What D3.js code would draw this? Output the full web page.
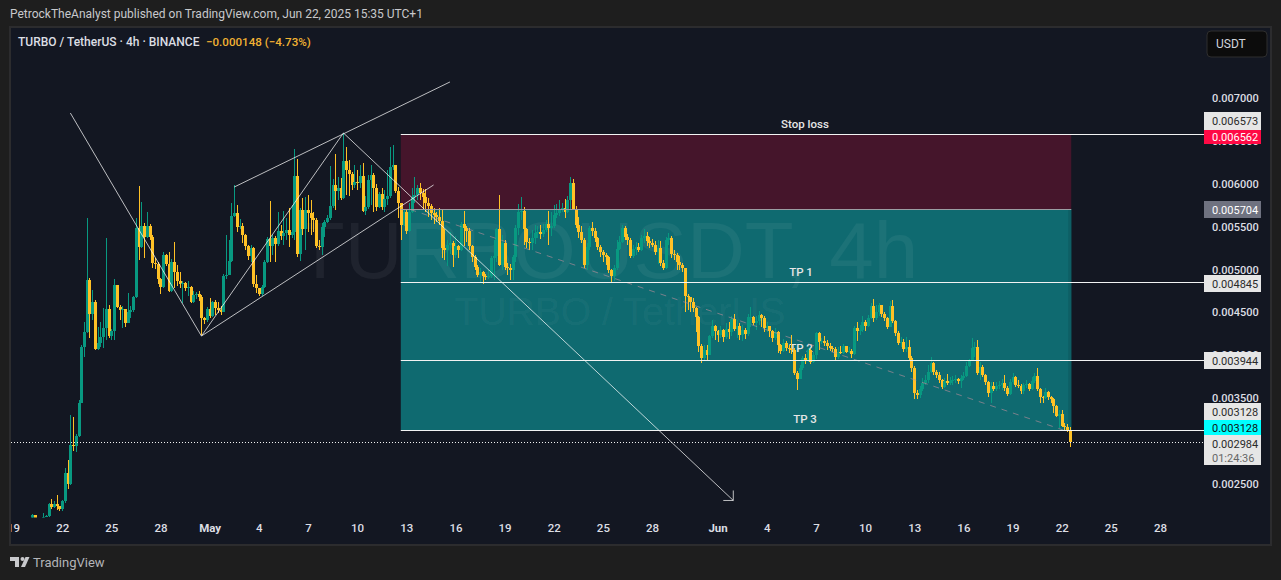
<!DOCTYPE html>
<html>
<head>
<meta charset="utf-8">
<script src="https://cdn.jsdelivr.net/npm/d3@7"></script>
<style>
	html, body { margin: 0; padding: 0; background: #1e1e1e; overflow: hidden; }
	text { font-family: Roboto, "Open Sans", sans-serif; }
</style>
</head>
<body>
<script>
// candles are 4h, first one is Apr 20 04:00. prices are in millionths
var firstCandle = '2025-04-20T04:00Z';
var firstOpen = 2103;

// open of each candle = close of the one before
var closes = [
	2138,2032,2032,2032,2114,
	2126,2266,2231,2266,2243,2208,
	2301,2627,2499,2954,2942,3059,
	3444,4097,4272,4878,4482,4622,
	4073,4143,4213,4318,4540,4225,
	4283,4820,4563,4528,4540,4376,
	4505,4528,4680,5484,5263,5507,
	5379,5507,5379,5076,5064,4890,
	4796,5170,5064,4750,5088,4971,
	4866,4831,4843,4785,4796,4622,
	4703,4715,4680,4435,4411,4540,
	4458,4622,4552,4528,4505,4925,
	4936,5099,5624,5659,5495,5507,
	5402,5274,5158,5251,4831,4785,
	4715,4796,5088,5356,5274,5368,
	5298,5449,5391,5426,5461,5402,
	5437,6090,5181,5694,5472,5694,
	5659,5601,5577,5274,5263,5495,
	5554,5601,5741,5986,5916,5951,
	5834,6265,6161,6114,5986,6021,
	6009,6090,5682,5729,6044,6102,
	5951,5729,5881,5729,5822,5857,
	6195,6218,5916,5776,5519,5671,
	5449,5671,5846,5869,5951,5892,
	5846,5776,5741,5659,5636,5612,
	5566,5251,5228,5286,5309,5170,
	5274,5228,5531,5484,5449,5274,
	5146,5029,4936,4971,4925,4913,
	4925,5135,5158,5472,5053,5309,
	5029,5018,4994,5146,5484,5671,
	5682,5472,5321,5309,5368,5426,
	5437,5414,5461,5531,5484,5507,
	5636,5659,5694,5717,5671,5811,
	6009,5706,5519,5437,5344,5053,
	5263,5484,5449,5368,5263,5204,
	5170,5146,4994,4925,5018,5239,
	5321,5484,5379,5344,5158,5239,
	5263,5228,5368,5391,5333,5309,
	5286,5204,5251,5076,5018,5344,
	5368,5181,5170,5088,5053,5018,
	4692,4680,4622,4552,4446,4108,
	3968,4062,4004,4225,4341,4283,
	4236,4295,4213,4306,4272,4423,
	4306,4341,4236,4295,4248,4446,
	4446,4376,4400,4470,4435,4318,
	4341,4283,4201,4272,4120,4050,
	4143,4085,4073,4068,3793,3723,
	3852,3968,3945,4062,3922,4004,
	4260,4155,4166,4143,4108,4085,
	4073,3980,4038,4027,4108,4038,
	4050,4015,4318,4283,4295,4388,
	4341,4435,4575,4435,4505,4587,
	4482,4435,4330,4575,4400,4260,
	4143,4155,4073,4097,3968,3852,
	3560,3537,3607,3677,3712,3805,
	3910,3805,3770,3712,3630,3700,
	3677,3700,3712,3723,3700,3735,
	3758,3875,3945,4085,4097,3793,
	3863,3770,3688,3560,3642,3607,
	3642,3653,3677,3618,3549,3688,
	3747,3653,3642,3584,3653,3665,
	3607,3700,3758,3607,3514,3502,
	3572,3514,3490,3409,3292,3315,
	3175,3164,3117,2984
];

var highs = [
	2149,2079,2079,2079,2161,
	2138,2278,2324,2301,2371,2243,
	2313,2685,2779,3304,3280,3082,
	3479,4120,4388,5601,4901,4761,
	4645,4330,4388,4552,5368,4587,
	4306,4890,4820,4587,4575,4540,
	4727,4575,4692,5601,5974,5787,
	5542,5671,5531,5402,5135,5088,
	4901,5204,5181,5204,5123,5321,
	5053,4971,4866,4855,4866,4808,
	4750,4738,4750,4703,4446,4563,
	4668,4633,4645,4622,4575,4948,
	5402,5344,5776,5986,5752,5589,
	5542,5414,5286,5286,5263,4936,
	4785,4820,5111,5379,5799,5402,
	5391,5671,5519,5682,5601,5717,
	5752,6405,6289,5717,5834,5846,
	5869,5811,5671,5601,5344,5542,
	5577,5636,6207,6056,6347,6079,
	6067,6592,6429,6277,6137,6219,
	6161,6219,6242,5857,6102,6219,
	6125,5998,5904,5951,5927,6161,
	6429,6452,6219,5963,5776,5694,
	5694,5776,5951,6079,5986,6009,
	5939,5939,5834,5764,5717,5671,
	5717,5706,5472,5344,5437,5333,
	5391,5286,5554,5682,5507,5484,
	5286,5170,5053,5018,4983,4948,
	4994,5158,5344,5484,5869,5402,
	5344,5076,5064,5170,5519,5764,
	5846,5729,5484,5368,5461,5519,
	5507,5519,5531,5577,5682,5671,
	5752,5764,5811,5776,5822,5857,
	6079,6056,5741,5612,5507,5368,
	5309,5507,5554,5484,5379,5286,
	5228,5193,5158,5006,5053,5344,
	5391,5519,5507,5414,5368,5286,
	5321,5309,5402,5472,5437,5379,
	5356,5333,5344,5333,5111,5379,
	5426,5391,5228,5193,5158,5076,
	5006,4715,4668,4668,4563,4458,
	4131,4120,4120,4236,4411,4353,
	4295,4341,4306,4376,4388,4458,
	4481,4411,4376,4353,4318,4481,
	4563,4458,4458,4516,4481,4458,
	4388,4341,4295,4318,4283,4131,
	4190,4166,4120,4236,4085,3817,
	3887,3992,4015,4085,4073,4038,
	4272,4272,4201,4225,4178,4143,
	4108,4097,4097,4108,4131,4085,
	4097,4073,4341,4388,4353,4458,
	4411,4470,4610,4656,4587,4610,
	4587,4505,4446,4633,4645,4411,
	4283,4213,4190,4213,4178,3992,
	3875,3595,3642,3735,3770,3887,
	3980,3922,3828,3805,3723,3735,
	3782,3747,3758,3770,3735,3770,
	3805,3922,3957,4201,4155,4178,
	3922,3887,3782,3700,3688,3688,
	3688,3700,3723,3770,3642,3723,
	3793,3758,3712,3665,3677,3712,
	3677,3747,3793,3852,3618,3525,
	3618,3584,3525,3502,3420,3362,
	3362,3210,3199,3164
];

var lows = [
	2103,1986,1986,1986,2103,
	2114,2114,2208,2219,2196,2184,
	2184,2278,2441,2488,2884,2872,
	3047,3444,3980,4260,4201,4411,
	4062,4062,4097,4085,4178,4201,
	4178,4178,4552,4411,4318,4330,
	4376,4435,4505,4668,5111,5251,
	5135,5368,5344,5018,5006,4831,
	4715,4785,5041,4738,4738,4785,
	4808,4785,4610,4750,4692,4610,
	4610,4657,4633,4236,4365,4388,
	4435,4446,4470,4493,4470,4505,
	4890,4936,5088,5612,5437,5472,
	5309,5228,5111,5088,4796,4727,
	4692,4692,4785,5076,5088,5170,
	5088,5274,5344,5286,5344,5263,
	5368,5344,5146,5099,5402,5228,
	5437,5402,5437,5251,5228,5170,
	5379,5542,5577,5717,5694,5811,
	5811,5822,5869,5857,5927,5951,
	5927,5951,5671,5636,5706,5752,
	5671,5682,5717,5694,5671,5752,
	5834,6162,5892,5601,5344,5507,
	5414,5437,5659,5776,5811,5811,
	5706,5671,5612,5577,5531,5554,
	5519,5135,5111,5041,5181,5029,
	5135,5135,5216,5274,5321,5228,
	5088,4994,4913,4843,4831,4878,
	4890,4901,4878,5088,5041,4994,
	4994,4936,4878,4878,5088,5402,
	5577,5286,5251,5228,5228,5298,
	5368,5356,5379,5437,5286,5391,
	5484,5601,5624,5671,5601,5659,
	5706,5694,5484,5368,5309,5018,
	4994,5228,5391,5321,5228,5146,
	5088,5053,4959,4843,4866,4994,
	5228,5309,5344,5286,5135,5135,
	5170,5204,5216,5309,5274,5251,
	5263,5170,5064,5041,4994,5006,
	5286,5135,5111,4994,4994,4971,
	4505,4528,4505,4505,4272,4038,
	3910,3934,3945,4004,4201,4178,
	4155,4201,4155,4190,4190,4225,
	4283,4201,4178,4166,4190,4225,
	4330,4353,4295,4353,4330,4272,
	4272,4213,4155,4178,4027,4015,
	4038,4050,4027,4015,3770,3595,
	3735,3828,3899,3922,3899,3910,
	3957,4062,4131,4108,4062,4050,
	4038,3934,3957,4015,4015,4027,
	4027,3968,4004,4166,4236,4272,
	4283,4330,4423,4388,4411,4458,
	4446,4400,4306,4353,4376,4225,
	4120,4097,4038,4038,3934,3805,
	3490,3490,3502,3584,3653,3677,
	3793,3770,3735,3677,3607,3618,
	3653,3653,3653,3677,3665,3618,
	3712,3747,3863,3934,3980,3770,
	3712,3747,3653,3514,3444,3584,
	3584,3607,3595,3584,3525,3537,
	3665,3630,3618,3549,3549,3618,
	3584,3595,3677,3584,3444,3444,
	3490,3479,3444,3327,3280,3152,
	3164,3117,3105,2931
];

// 0.003000 is left out, the price badges cover it completely
var priceTicks = [7000, 6500, 6000, 5500, 5000, 4500, 4000, 3500, 2500];
var dateTicks = ['04-19','04-22','04-25','04-28','05-01','05-04','05-07','05-10','05-13','05-16','05-19','05-22','05-25','05-28','06-01','06-04','06-07','06-10','06-13','06-16','06-19','06-22','06-25','06-28'];
var dateLabels = ['19','22','25','28','May','4','7','10','13','16','19','22','25','28','Jun','4','7','10','13','16','19','22','25','28'];

// the levels of the long position tool
var stopLevel = 6573, entryLevel = 5704, tp1Level = 4845, tp2Level = 3944, tp3Level = 3128, lastPrice = 2984;
var boxStart = '2025-05-12T16:00Z', boxEnd = '2025-06-22T14:00Z';

// hand drawn lines, [time, price]
var zigzag = [['2025-04-22T12:00Z', 6825], ['2025-04-30T12:00Z', 4225], ['2025-05-09T04:00Z', 6592]];
var channelTop = [['2025-05-02T12:00Z', 5962], ['2025-05-15T16:00Z', 7187]];
var channelBottom = [['2025-04-30T12:00Z', 4225], ['2025-05-14T16:00Z', 5986]];
var bigArrow = [['2025-05-09T04:00Z', 6592], ['2025-06-01T23:00Z', 2308]];
var dashedTrend = [['2025-05-13T06:00Z', 5700], ['2025-06-22T02:00Z', 3130]];

var WIDTH = 1281, HEIGHT = 580;
var PANE_LEFT = 11, PANE_TOP = 28, PANE_RIGHT = 1270, PANE_BOTTOM = 544;
var CANDLE_BOTTOM = 517.5;   // time axis starts here
var AXIS_X = 1204;
var BADGE_W = 57;

var GREEN = '#089981', YELLOW = '#ffc126';
var TEXTCOL = '#dcdee4';

var x = d3.scaleUtc()
	.domain([new Date('2025-04-19T00:00Z'), new Date('2025-06-28T00:00Z')])
	.range([13, 1160]);

var y = d3.scaleLinear()
	.domain([2500, 7000])
	.range([484, 98]);

function pt(d) { return [x(new Date(d[0])), y(d[1])]; }

// build candles from the arrays
var start = new Date(firstCandle);
var candles = closes.map(function(c, i) {
	return {
		time: d3.utcHour.offset(start, i * 4),
		open: i == 0 ? firstOpen : closes[i - 1],
		high: highs[i],
		low: lows[i],
		close: c
	};
});

var svg = d3.select('body').append('svg')
	.attr('width', WIDTH)
	.attr('height', HEIGHT)
	.style('display', 'block');

// ------------------------ FRAME ------------------------
svg.append('rect').attr('width', WIDTH).attr('height', HEIGHT).attr('fill', '#1e1e1e');
svg.append('rect')
	.attr('x', PANE_LEFT - 1).attr('y', PANE_TOP - 1)
	.attr('width', PANE_RIGHT - PANE_LEFT + 2).attr('height', PANE_BOTTOM - PANE_TOP + 2)
	.attr('fill', '#131722')
	.attr('stroke', '#2c2c2e')
	.attr('stroke-width', 2);

svg.append('text')
	.attr('x', 10).attr('y', 18)
	.attr('fill', '#c8c9cc')
	.attr('font-size', 12)
	.text('PetrockTheAnalyst published on TradingView.com, Jun 22, 2025 15:35 UTC+1');

var defs = svg.append('defs');
defs.append('clipPath').attr('id', 'pane').append('rect')
	.attr('x', PANE_LEFT).attr('y', PANE_TOP)
	.attr('width', AXIS_X - PANE_LEFT).attr('height', CANDLE_BOTTOM - PANE_TOP);
defs.append('clipPath').attr('id', 'axisclip').append('rect')
	.attr('x', PANE_LEFT).attr('y', PANE_TOP)
	.attr('width', PANE_RIGHT - PANE_LEFT).attr('height', PANE_BOTTOM - PANE_TOP);

// ------------------------ POSITION BOXES ------------------------
var bx0 = x(new Date(boxStart)), bx1 = x(new Date(boxEnd));
var chart = svg.append('g').attr('clip-path', 'url(#pane)');

chart.append('rect')
	.attr('x', bx0).attr('y', y(stopLevel))
	.attr('width', bx1 - bx0).attr('height', y(entryLevel) - y(stopLevel))
	.attr('fill', '#45152b');
chart.append('rect')
	.attr('x', bx0).attr('y', y(entryLevel))
	.attr('width', bx1 - bx0).attr('height', y(tp3Level) - y(entryLevel))
	.attr('fill', '#0f6a70');
// slightly darker strip at right side of the tool
chart.append('rect')
	.attr('x', bx1 - 3).attr('y', y(entryLevel))
	.attr('width', 3).attr('height', y(tp3Level) - y(entryLevel))
	.attr('fill', '#0e5f65');

// ------------------------ WATERMARK ------------------------
chart.append('text')
	.attr('x', 607).attr('y', 278)
	.attr('text-anchor', 'middle')
	.attr('font-size', 80)
	.attr('fill', '#fff')
	.attr('fill-opacity', 0.055)
	.style('font-family', 'Liberation Sans')
	.text('TURBOUSDT, 4h');
chart.append('text')
	.attr('x', 620).attr('y', 325)
	.attr('text-anchor', 'middle')
	.attr('font-size', 39)
	.attr('fill', '#fff')
	.attr('fill-opacity', 0.05)
	.style('font-family', 'Liberation Sans')
	.text('TURBO / TetherUS');

// labels sit under the candles
var labelData = [
	{ t: 'Stop loss', x: 805, level: stopLevel, dy: -7 },
	{ t: 'TP 1', x: 801, level: tp1Level, dy: -7 },
	{ t: 'TP 2', x: 801, level: tp2Level, dy: -8 },
	{ t: 'TP 3', x: 805, level: tp3Level, dy: -7 }
];
chart.selectAll('.toollabel')
	.data(labelData)
	.enter()
	.append('text')
	.attr('class', 'toollabel')
	.attr('x', function(d) { return d.x; })
	.attr('y', function(d) { return y(d.level) + d.dy; })
	.attr('text-anchor', 'middle')
	.attr('fill', '#e6e6e6')
	.attr('font-size', 11.5)
	.attr('font-weight', 500)
	.text(function(d) { return d.t; });

// ------------------------ CANDLES ------------------------
var candleG = chart.selectAll('.candle')
	.data(candles)
	.enter()
	.append('g')
	.attr('class', 'candle')
	.attr('shape-rendering', 'crispEdges');

candleG.append('line')
	.attr('x1', function(d) { return Math.round(x(d.time)) + 0.5; })
	.attr('x2', function(d) { return Math.round(x(d.time)) + 0.5; })
	.attr('y1', function(d) { return y(d.high); })
	.attr('y2', function(d) { return y(d.low); })
	.attr('stroke', function(d) { return d.close >= d.open ? GREEN : YELLOW; });

candleG.append('rect')
	.attr('x', function(d) { return Math.round(x(d.time)) - 1; })
	.attr('width', 3)
	.attr('y', function(d) { return y(Math.max(d.open, d.close)); })
	.attr('height', function(d) { return Math.max(1, Math.abs(y(d.open) - y(d.close))); })
	.attr('fill', function(d) { return d.close >= d.open ? GREEN : YELLOW; });

// ------------------------ DRAWINGS ------------------------
var line = d3.line().x(function(d) { return pt(d)[0]; }).y(function(d) { return pt(d)[1]; });

[zigzag, channelTop, channelBottom, bigArrow].forEach(function(l) {
	chart.append('path')
		.attr('d', line(l))
		.attr('fill', 'none')
		.attr('stroke', '#fff')
		.attr('stroke-opacity', 0.72);
});

var tip = pt(bigArrow[1]);
chart.append('path')
	.attr('d', 'M' + (tip[0] - 10) + ',' + tip[1] + 'L' + tip[0] + ',' + tip[1] + 'L' + tip[0] + ',' + (tip[1] - 10))
	.attr('fill', 'none')
	.attr('stroke', '#fff')
	.attr('stroke-opacity', 0.72);

chart.append('path')
	.attr('d', line(dashedTrend))
	.attr('fill', 'none')
	.attr('stroke', '#c08f9c')
	.attr('stroke-opacity', 0.6)
	.attr('stroke-dasharray', '6 6');

// level lines
[stopLevel, tp1Level, tp2Level, tp3Level].forEach(function(l) {
	svg.append('line')
		.attr('x1', bx0).attr('x2', AXIS_X + 1)
		.attr('y1', Math.floor(y(l)) + 0.5).attr('y2', Math.floor(y(l)) + 0.5)
		.attr('stroke', '#f2f3f3');
});
svg.append('line')
	.attr('x1', bx0).attr('x2', bx1)
	.attr('y1', Math.round(y(entryLevel)) + 0.5).attr('y2', Math.round(y(entryLevel)) + 0.5)
	.attr('stroke', '#9b9ea3');

svg.append('line')
	.attr('x1', PANE_LEFT).attr('x2', AXIS_X)
	.attr('y1', Math.round(y(lastPrice)) + 0.5).attr('y2', Math.round(y(lastPrice)) + 0.5)
	.attr('stroke', '#f2f3f3')
	.attr('stroke-dasharray', '1 2');

// ------------------------ AXES ------------------------
var priceAxis = d3.axisRight(y)
	.tickValues(priceTicks)
	.tickSize(0)
	.tickPadding(0)
	.tickFormat(function(d) { return d3.format('.6f')(d / 1e6); });

var gy = svg.append('g')
	.attr('transform', 'translate(1212,0)')
	.call(priceAxis);
gy.select('.domain').remove();
gy.selectAll('text')
	.attr('fill', TEXTCOL)
	.attr('font-size', 11)
	.attr('font-weight', 500)
	.style('font-family', 'Roboto');

var timeAxis = d3.axisBottom(x)
	.tickValues(dateTicks.map(function(d) { return new Date('2025-' + d + 'T00:00Z'); }))
	.tickSize(0)
	.tickPadding(0)
	.tickFormat(function(d, i) { return dateLabels[i]; });

// outer group holds the clip so it stays in page coordinates
var gx = svg.append('g')
	.attr('clip-path', 'url(#axisclip)')
	.append('g')
	.attr('transform', 'translate(0,524)')
	.call(timeAxis);
gx.select('.domain').remove();
gx.selectAll('text')
	.attr('fill', TEXTCOL)
	.attr('font-size', 11.5)
	.attr('font-weight', function(d, i) { return isNaN(+dateLabels[i]) ? 700 : 500; })
	.style('font-family', 'Roboto');

// ------------------------ PRICE BADGES ------------------------
var badges = [
	{ t: '0.006573', top: 112, h: 18, bg: '#e6e6e6', fg: '#2a2a2a' },
	{ t: '0.006562', top: 130, h: 14, bg: '#ff0a45', fg: '#ffffff' },
	{ t: '0.005704', top: 201, h: 17, bg: '#6f7280', fg: '#ffffff' },
	{ t: '0.004845', top: 275, h: 17, bg: '#e6e6e6', fg: '#2a2a2a' },
	{ t: '0.003944', top: 352, h: 17, bg: '#e6e6e6', fg: '#2a2a2a' },
	{ t: '0.003128', top: 403, h: 17, bg: '#e6e6e6', fg: '#2a2a2a' },
	{ t: '0.003128', top: 420, h: 15, bg: '#00ffff', fg: '#111111' },
	{ t: '0.002984', top: 435, h: 18, bg: '#e6e6e6', fg: '#2a2a2a' },
	{ t: '01:24:36', top: 450, h: 15, bg: '#e6e6e6', fg: '#666666' }
];

var badge = svg.selectAll('.badge')
	.data(badges)
	.enter()
	.append('g')
	.attr('class', 'badge');
badge.append('rect')
	.attr('x', AXIS_X)
	.attr('y', function(d) { return d.top; })
	.attr('width', BADGE_W)
	.attr('height', function(d) { return d.h; })
	.attr('fill', function(d) { return d.bg; });
badge.append('text')
	.attr('x', 1212)
	.attr('y', function(d) { return d.top + d.h / 2 + 4; })
	.attr('fill', function(d) { return d.fg; })
	.attr('font-size', 11)
	.text(function(d) { return d.t; });

// ------------------------ LEGEND / UNIT BUTTON / LOGO ------------------------
svg.append('text')
	.attr('x', 18).attr('y', 46)
	.attr('fill', TEXTCOL)
	.attr('font-size', 12)
	.attr('font-weight', 500)
	.text('TURBO / TetherUS · 4h · BINANCE');
svg.append('text')
	.attr('x', 206).attr('y', 46)
	.attr('fill', '#f2b233')
	.attr('font-size', 11.6)
	.attr('font-weight', 500)
	.text('−0.000148 (−4.73%)');

svg.append('rect')
	.attr('x', 1207).attr('y', 31)
	.attr('width', 60).attr('height', 26)
	.attr('rx', 4)
	.attr('fill', '#0c0c0c')
	.attr('stroke', '#2e2e2e');
svg.append('text')
	.attr('x', 1216).attr('y', 48)
	.attr('fill', '#d1d4dc')
	.attr('font-size', 12)
	.text('USDT');

var logo = svg.append('g').attr('fill', '#c8c9cc');
logo.append('path').attr('d', 'M10,557h9v10h-4v-6h-5z');
logo.append('circle').attr('cx', 22.5).attr('cy', 559).attr('r', 2);
logo.append('path').attr('d', 'M25.5,557h4l-4.5,10h-4z');
svg.append('text')
	.attr('x', 33).attr('y', 567)
	.attr('fill', '#b4b5b8')
	.attr('font-size', 13)
	.text('TradingView');
</script>
</body>
</html>
